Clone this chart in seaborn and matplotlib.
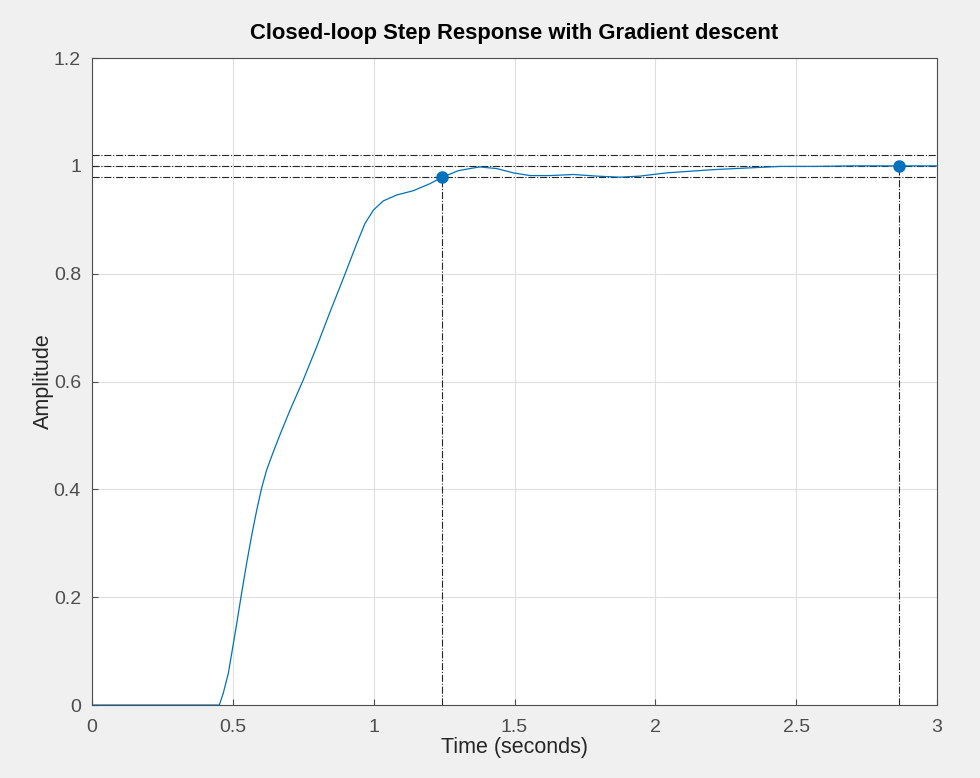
import matplotlib
matplotlib.use("Agg")
import matplotlib.pyplot as plt
import seaborn as sns
import pandas as pd

# step response
time = [0.0, 0.452, 0.466, 0.484, 0.498, 0.514, 0.531, 0.549, 0.567, 0.585, 0.602,
        0.620, 0.644, 0.667, 0.689, 0.703, 0.750, 0.798, 0.845, 0.892, 0.940, 0.969,
        0.999, 1.034, 1.082, 1.141, 1.200, 1.244, 1.300, 1.342, 1.377, 1.437, 1.496,
        1.555, 1.626, 1.709, 1.792, 1.875, 1.945, 2.040, 2.123, 2.206, 2.324, 2.443,
        2.561, 2.700, 2.865, 3.0]
amplitude = [0.0, 0.0, 0.022, 0.059, 0.102, 0.152, 0.207, 0.263, 0.315, 0.362, 0.402,
             0.436, 0.470, 0.501, 0.529, 0.547, 0.603, 0.665, 0.729, 0.791, 0.856, 0.893,
             0.918, 0.935, 0.946, 0.954, 0.967, 0.979, 0.991, 0.995, 0.998, 0.995, 0.987,
             0.982, 0.982, 0.984, 0.981, 0.979, 0.981, 0.987, 0.990, 0.993, 0.996, 0.999,
             0.999, 1.0, 1.0, 1.0]

rise_point = (1.244, 0.98)
settle_point = (2.865, 1.0)
band = [0.98, 1.0, 1.02]

xticks = [0, 0.5, 1, 1.5, 2, 2.5, 3]
yticks = [0, 0.2, 0.4, 0.6, 0.8, 1, 1.2]

df = pd.DataFrame({"Time": time, "Amplitude": amplitude})

sns.set_style("whitegrid")
plt.rcParams['font.family'] = ['Liberation Sans', 'DejaVu Sans']

fig = plt.figure(figsize=(9.8, 7.78), dpi=100, facecolor="#f0f0f0")
ax = fig.add_axes([0.0939, 0.0938, 0.8622, 0.8316])
ax.set_facecolor("white")

# characteristic lines
for y in band:
    ax.axhline(y, color="#262626", lw=0.8, ls="-.", zorder=2)
for px, py in [rise_point, settle_point]:
    ax.plot([px, px], [0, py], color="#262626", lw=0.8, ls="-.", zorder=2)

sns.lineplot(data=df, x="Time", y="Amplitude", color="#0072BD", lw=0.9, ax=ax, zorder=3)
ax.plot([rise_point[0], settle_point[0]], [rise_point[1], settle_point[1]],
        ls="none", marker="o", ms=8, color="#0072BD", zorder=4)

ax.set_xlim(0, 3)
ax.set_ylim(0, 1.2)
ax.set_xticks(xticks)
ax.set_xticklabels([f"{v:g}" for v in xticks])
ax.set_yticks(yticks)
ax.set_yticklabels([f"{v:g}" for v in yticks])
ax.grid(True, color="#dfdfdf", lw=0.8)
ax.tick_params(direction="in", length=4, width=0.8, colors="#4d4d4d",
               labelsize=14, labelcolor="#4d4d4d", top=False, right=False,
               bottom=True, left=True)
ax.tick_params(axis="x", pad=10)
ax.tick_params(axis="y", pad=8)
for s in ax.spines.values():
    s.set_visible(True)
    s.set_color("#4d4d4d")
    s.set_linewidth(0.8)

ax.set_xlabel("Time (seconds)", fontsize=15.5, color="#262626", labelpad=1)
ax.set_ylabel("Amplitude", fontsize=15.5, color="#262626", labelpad=0)
ax.set_title("Closed-loop Step Response with Gradient descent", fontsize=15.8,
             fontweight="bold", color="black", pad=14)

fig.savefig("out.png", dpi=100, facecolor=fig.get_facecolor())
